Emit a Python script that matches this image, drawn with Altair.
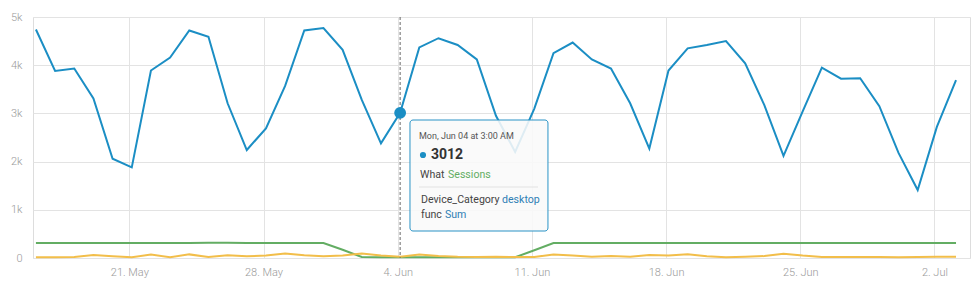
import altair as alt
import pandas as pd

start = pd.Timestamp("2018-05-16T03:00:00")
dates = [(start + pd.Timedelta(days=i)).strftime("%Y-%m-%dT%H:%M:%SZ") for i in range(49)]

desktop = [4740, 3880, 3930, 3310, 2060, 1880, 3890, 4160, 4720, 4590,
           3210, 2240, 2690, 3570, 4720, 4770, 4320, 3280, 2380, 3012,
           4370, 4560, 4420, 4120, 2950, 2200, 3100, 4250, 4470, 4120,
           3930, 3210, 2270, 3890, 4350, 4420, 4500, 4040, 3170, 2120,
           3040, 3950, 3720, 3730, 3150, 2180, 1410, 2720, 3690]

mobile = [310, 310, 310, 310, 310, 310, 310, 310, 312, 315,
          315, 312, 310, 310, 310, 310, 170, 20, 15, 15,
          15, 15, 15, 15, 15, 15, 160, 310, 310, 310,
          310, 310, 310, 310, 312, 312, 310, 310, 310, 310,
          310, 310, 310, 310, 310, 310, 310, 310, 310]

tablet = [15, 15, 20, 60, 35, 15, 70, 15, 75, 20,
          55, 35, 50, 95, 55, 35, 50, 95, 50, 25,
          70, 40, 25, 20, 25, 20, 20, 75, 50, 25,
          40, 25, 60, 50, 80, 35, 15, 25, 40, 90,
          50, 20, 20, 20, 20, 15, 20, 25, 25]

series_names = ["tablet", "mobile", "desktop"]
series_colors = ["#f2be4a", "#63ad63", "#1b8ec4"]

tick_dates = ["2018-05-21", "2018-05-28", "2018-06-04", "2018-06-11",
              "2018-06-18", "2018-06-25", "2018-07-02"]

# highlighted point / tooltip content
hl_date = "2018-06-04T03:00:00Z"
hl_value = 3012
tt_header = "Mon, Jun 04 at 3:00 AM"
tt_what = "Sessions"
tt_device = "desktop"
tt_func = "Sum"

# tooltip box extents (data units)
box_x0 = "2018-06-04T15:20:00Z"
box_x1 = "2018-06-11T20:05:00Z"
box_y0 = 560
box_y1 = 2863
sep_x0 = "2018-06-05T02:36:00Z"
sep_x1 = "2018-06-11T07:35:00Z"
sep_y = 1473

rows = []
for name, vals in zip(["desktop", "mobile", "tablet"], [desktop, mobile, tablet]):
    for d, v in zip(dates, vals):
        rows.append({"date": d, "value": v, "series": name})
df = pd.DataFrame(rows)

FONT = "Roboto"

x_scale = alt.Scale(type="utc", domain=["2018-05-15T23:20:00Z", "2018-07-03T20:30:00Z"], nice=False)
y_scale = alt.Scale(domain=[0, 5000], nice=False)

x_axis = alt.Axis(
    values=[alt.DateTime(year=int(t[:4]), month=int(t[5:7]), date=int(t[8:10]), utc=True) for t in tick_dates],
    labelExpr="utcFormat(datum.value, '%-d. %b')", title=None, grid=True, gridColor="#e3e3e3",
    domain=False, ticks=False, labelColor="#9a9a9a", labelFontSize=11, labelFont=FONT,
    labelFontWeight=300, labelPadding=8,
)
y_axis = alt.Axis(
    values=[0, 1000, 2000, 3000, 4000, 5000],
    labelExpr="datum.value == 0 ? '0' : (datum.value / 1000) + 'k'",
    title=None, grid=True, gridColor="#e3e3e3", domain=False, ticks=False,
    labelColor="#9a9a9a", labelFontSize=11, labelFont=FONT, labelFontWeight=300,
    labelPadding=11,
)

base = alt.Chart(df)

lines = base.mark_line(strokeWidth=2, interpolate="linear").encode(
    x=alt.X("date:T", scale=x_scale, axis=x_axis),
    y=alt.Y("value:Q", scale=y_scale, axis=y_axis),
    color=alt.Color("series:N", scale=alt.Scale(domain=series_names, range=series_colors), legend=None),
    order=alt.Order("series:N"),
    detail="series:N",
)

hl = pd.DataFrame({"date": [hl_date], "value": [hl_value]})

vrule = alt.Chart(hl).mark_rule(color="#666666", strokeDash=[3, 2], strokeWidth=1).encode(
    x=alt.X("date:T", scale=x_scale), y=alt.value(0), y2=alt.value(241)
)
hpoint = alt.Chart(hl).mark_point(filled=True, size=140, color="#1b8ec4", opacity=1).encode(
    x=alt.X("date:T", scale=x_scale), y=alt.Y("value:Q", scale=y_scale)
)

box_df = pd.DataFrame({"x0": [box_x0], "x1": [box_x1], "y0": [box_y0], "y1": [box_y1]})
box = alt.Chart(box_df).mark_rect(fill="#f9f9f9", fillOpacity=0.88, stroke="#2a93c6",
                                  strokeWidth=1, cornerRadius=3).encode(
    x=alt.X("x0:T", scale=x_scale), x2="x1:T",
    y=alt.Y("y0:Q", scale=y_scale), y2="y1:Q",
)

sep_df = pd.DataFrame({"x0": [sep_x0], "x1": [sep_x1], "y": [sep_y]})
sep = alt.Chart(sep_df).mark_rule(color="#e2e2e2", strokeWidth=1).encode(
    x=alt.X("x0:T", scale=x_scale), x2="x1:T", y=alt.Y("y:Q", scale=y_scale)
)

anchor = pd.DataFrame({"x": [box_x0], "y": [box_y1]})


def tt_text(txt, dx, dy, size, color, weight="normal"):
    return alt.Chart(anchor).mark_text(
        text=txt, align="left", baseline="alphabetic", dx=dx, dy=dy,
        fontSize=size, color=color, font=FONT, fontWeight=weight,
    ).encode(x=alt.X("x:T", scale=x_scale), y=alt.Y("y:Q", scale=y_scale))


dot = alt.Chart(anchor).mark_point(filled=True, size=38, color="#1b8ec4", opacity=1,
                                   xOffset=13, yOffset=35).encode(
    x=alt.X("x:T", scale=x_scale), y=alt.Y("y:Q", scale=y_scale)
)

texts = [
    tt_text(tt_header, 9, 19, 9, "#555555"),
    tt_text(str(hl_value), 21, 39, 14, "#333333", "bold"),
    tt_text("What", 10, 58, 10.6, "#444444"),
    tt_text(tt_what, 38, 58, 10.6, "#63ad63"),
    tt_text("Device_Category", 11, 83, 10.6, "#444444"),
    tt_text(tt_device, 92, 83, 10.6, "#2f7fb5"),
    tt_text("func", 11, 98, 10.6, "#444444"),
    tt_text(tt_func, 35, 98, 10.6, "#2f7fb5"),
]

chart = alt.layer(lines, vrule, hpoint, box, sep, dot, *texts).properties(
    width=937, height=241,
    autosize=alt.AutoSizeParams(type="none"),
    padding={"left": 33, "top": 17, "right": 10, "bottom": 33},
).configure_view(stroke=None).configure(background="white")

chart.save("out.html", embed_options={"renderer": "svg", "actions": False})
